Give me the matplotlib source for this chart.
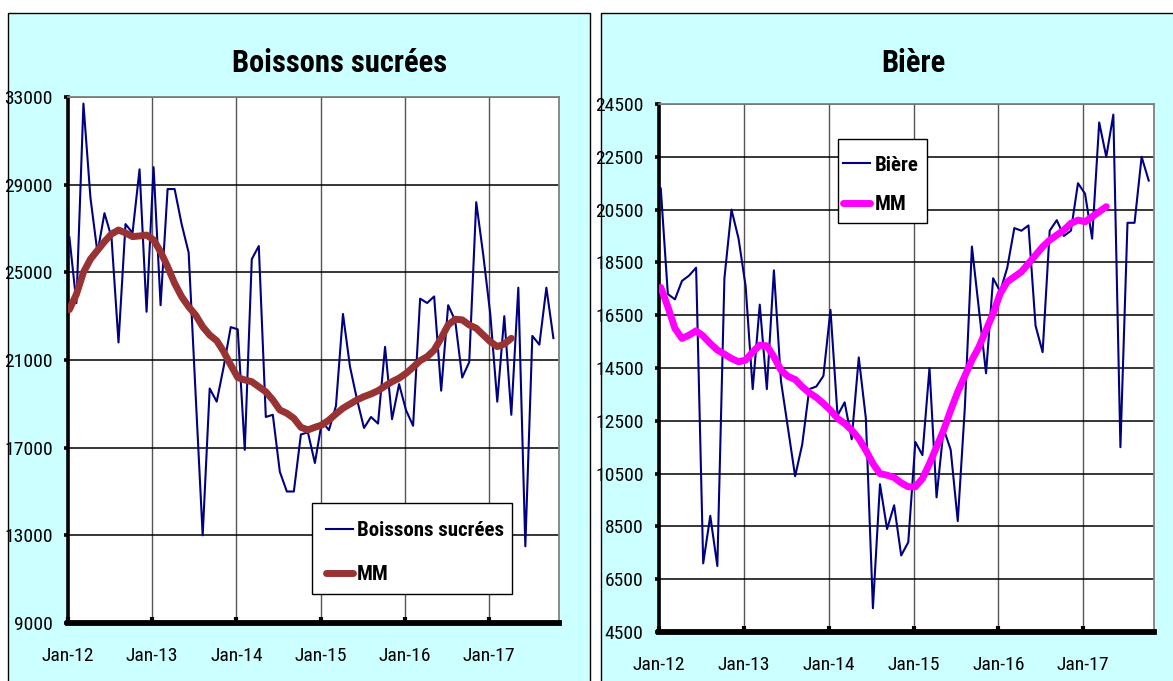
import os
import matplotlib
matplotlib.use('Agg')
import matplotlib.pyplot as plt
from matplotlib.patches import Rectangle
from matplotlib import font_manager as fm
from matplotlib.font_manager import FontProperties

# ---------------- data ----------------
year_labels = ['Jan-12', 'Jan-13', 'Jan-14', 'Jan-15', 'Jan-16', 'Jan-17']

sucrees = [26600, 23600, 32700, 28400, 25900, 27700, 26600, 21800, 27200, 26800,
           29700, 23200, 29800, 23500, 28800, 28800, 27200, 25900, 19400, 13000,
           19700, 19100, 20700, 22500, 22400, 16900, 25600, 26200, 18400, 18500,
           15900, 15000, 15000, 17600, 17700, 16300, 18200, 17800, 18900, 23100,
           20700, 19200, 17900, 18400, 18100, 21600, 18300, 19900, 18700, 18000,
           23800, 23600, 23900, 19600, 23500, 22800, 20200, 20900, 28200, 25800,
           23100, 19100, 23000, 18500, 24300, 12500, 22100, 21700, 24300, 22000]

sucrees_mm = [23300, 24000, 25000, 25600, 26000, 26400, 26750, 26930, 26800, 26630,
              26660, 26700, 26480, 25940, 25260, 24500, 23890, 23430, 23050, 22520,
              22140, 21880, 21380, 20770, 20200, 20090, 20010, 19780, 19550, 19180,
              18720, 18570, 18340, 17930, 17810, 17930, 18035, 18260, 18540, 18800,
              18990, 19180, 19330, 19450, 19600, 19810, 20010, 20170, 20390, 20670,
              20970, 21150, 21450, 22000, 22600, 22860, 22830, 22600, 22450, 22140,
              21840, 21610, 21730, 21990]

biere = [21300, 17300, 17100, 17800, 18000, 18300, 7100, 8900, 7000, 17900,
         20500, 19400, 17600, 13700, 16900, 13700, 18200, 14000, 12200, 10400,
         11600, 13700, 13800, 14200, 16700, 12700, 13200, 11800, 14900, 12600,
         5400, 10100, 8400, 9300, 7400, 7900, 11700, 11200, 14500, 9600,
         12200, 11400, 8700, 13000, 19100, 16700, 14300, 17900, 17400, 18300,
         19800, 19700, 19900, 16100, 15100, 19700, 20100, 19500, 19700, 21500,
         21100, 19400, 23800, 22500, 24100, 11500, 20000, 20000, 22500, 21600]

biere_mm = [17550, 16820, 16000, 15620, 15745, 15910, 15710, 15430, 15180, 15025,
            14860, 14735, 14800, 15110, 15365, 15340, 14920, 14420, 14180, 14065,
            13790, 13560, 13385, 13155, 12900, 12590, 12400, 12145, 11830, 11385,
            10880, 10500, 10440, 10350, 10150, 10000, 10000, 10310, 10880, 11510,
            12145, 12900, 13600, 14200, 14800, 15300, 15935, 16567, 17325, 17765,
            17955, 18145, 18460, 18777, 19092, 19345, 19535, 19725, 19980, 20103,
            20040, 20230, 20420, 20610]


# ---------------- fonts: look for a narrow / condensed face ----------------
def find_face(bold):
    files = {}
    for f in fm.fontManager.ttflist:
        files[os.path.basename(f.fname).lower()] = f.fname
    if bold:
        prefs = ['liberationsansnarrow-bold.ttf', 'arialnb.ttf',
                 'robotocondensed-bold.ttf', 'notosans-condensedbold.ttf',
                 'opensans_condensed-bold.ttf', 'opensans-condensedbold.ttf',
                 'dejavusanscondensed-bold.ttf']
    else:
        prefs = ['liberationsansnarrow-regular.ttf', 'arialn.ttf',
                 'robotocondensed-regular.ttf', 'notosans-condensed.ttf',
                 'opensans_condensed-regular.ttf', 'opensans-condensed.ttf',
                 'dejavusanscondensed.ttf']
    for p in prefs:
        if p in files:
            return files[p]
    for base, path in sorted(files.items()):
        if ('narrow' in base or 'condensed' in base) and 'italic' not in base \
                and 'oblique' not in base and 'light' not in base \
                and 'semi' not in base and 'extra' not in base \
                and 'black' not in base and 'thin' not in base \
                and 'medium' not in base:
            if bold == ('bold' in base):
                return path
    return None


REG = find_face(False)
BLD = find_face(True)


def fp(size, bold=False):
    path = BLD if bold else REG
    if path:
        return FontProperties(fname=path, size=size)
    return FontProperties(family=['Liberation Sans', 'DejaVu Sans'],
                          weight='bold' if bold else 'normal', size=size * 0.85)


W, H = 1173, 681
fig = plt.figure(figsize=(W / 100, H / 100), dpi=100)
fig.patch.set_facecolor('white')


def px_rect(x0, y0, x1, y1):
    return [x0 / W, 1 - y1 / H, (x1 - x0) / W, (y1 - y0) / H]


for (x0, x1) in [(8, 590), (601, 1190)]:
    l, b, w, h = px_rect(x0, 13, x1, 700)
    fig.add_artist(Rectangle((l, b), w, h, transform=fig.transFigure,
                             facecolor='#CCFFFF', edgecolor='black',
                             linewidth=1.0, zorder=0))


def make_panel(rect, series, mm, mm_color, ymin, ymax, ystep, title, title_xy,
               labels, box_px, handle_x, rows_mid, labelspacing, xoff):
    ax = fig.add_axes(rect)
    ax.set_facecolor('white')
    xs = [i + xoff for i in range(len(series))]
    xm = [i + xoff for i in range(len(mm))]
    l1, = ax.plot(xs, series, color='#000080', lw=1.5, zorder=3)
    l2, = ax.plot(xm, mm, color=mm_color, lw=5.0, zorder=4,
                  solid_capstyle='round', solid_joinstyle='round')
    ax.set_xlim(0, 70)
    ax.set_ylim(ymin, ymax)
    yt = list(range(ymin, ymax + 1, ystep))
    ax.set_yticks(yt)
    ax.set_yticklabels([str(v) for v in yt], fontproperties=fp(14))
    ax.set_xticks([0, 12, 24, 36, 48, 60])
    ax.set_xticklabels(year_labels, fontproperties=fp(14))
    ax.grid(axis='y', color='black', lw=1.1, zorder=1)
    ax.grid(axis='x', color='#555555', lw=1.0, zorder=1)
    ax.set_axisbelow(True)
    for s in ['top', 'right']:
        ax.spines[s].set_color('#808080')
        ax.spines[s].set_linewidth(1.3)
    ax.spines['left'].set_linewidth(2.6)
    ax.spines['bottom'].set_linewidth(4.2)
    ax.tick_params(axis='y', direction='out', length=3, width=2.6, pad=8)
    ax.tick_params(axis='x', direction='in', length=4, width=3, pad=17)

    # legend frame drawn as a box, legend content placed inside it
    bl, bb, bw, bh = px_rect(*box_px)
    ax.add_artist(Rectangle((bl, bb), bw, bh, transform=fig.transFigure,
                            facecolor='white', edgecolor='black',
                            linewidth=1.0, zorder=9))
    leg = ax.legend([l1, l2], labels, loc='center left',
                    bbox_to_anchor=(handle_x / W, 1 - rows_mid / H),
                    bbox_transform=fig.transFigure, frameon=False,
                    prop=fp(15, bold=True),
                    handlelength=1.3, handletextpad=0.2,
                    labelspacing=labelspacing, borderpad=0, borderaxespad=0)
    leg.set_zorder(10)
    fig.text(title_xy[0] / W, 1 - title_xy[1] / H, title, ha='center',
             va='center', fontproperties=fp(22, bold=True))
    return ax


make_panel(px_rect(68, 97, 559, 623), sucrees, sucrees_mm, '#993333',
           9000, 33000, 4000, 'Boissons sucrées', (340, 63),
           ['Boissons sucrées', 'MM'], (312, 503, 512, 594), 326, 553, 1.2, 0.2)

make_panel(px_rect(659, 104, 1154, 632), biere, biere_mm, '#FF00FF',
           4500, 24500, 2000, 'Bière', (913, 63),
           ['Bière', 'MM'], (838, 139, 927, 223), 843, 185, 1.0, 0.25)

fig.savefig('out.png', dpi=100, facecolor='white')
